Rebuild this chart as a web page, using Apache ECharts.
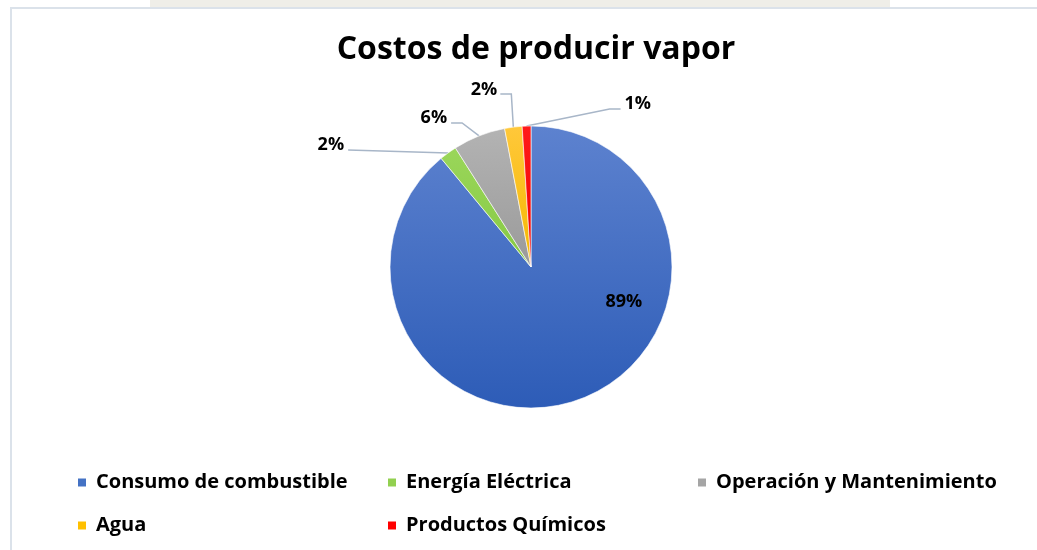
<!DOCTYPE html>
<html>
<head>
<meta charset="utf-8">
<script src="https://cdn.jsdelivr.net/npm/echarts@6/dist/echarts.min.js"></script>
<style>
  html, body { margin: 0; padding: 0; background: #ffffff; }
  #chart { width: 1037px; height: 550px; }
</style>
</head>
<body>
<div id="chart"></div>
<script>
// Cost breakdown of producing steam (percent of total)
const categories = [
  'Consumo de combustible',
  'Energía Eléctrica',
  'Operación y Mantenimiento',
  'Agua',
  'Productos Químicos'
];
const shares = [89, 2, 6, 2, 1];

// Slice fills: [top, bottom] of a soft vertical gradient, plus a flat legend swatch
const sliceTop    = ['#5d82cf', '#9ad65a', '#b3b3b3', '#ffc83a', '#ff1a1a'];
const sliceBottom = ['#2d5cb7', '#86c943', '#9a9a9a', '#f5b800', '#f00000'];
const swatch      = ['#4472c4', '#92d050', '#a5a5a5', '#ffc000', '#ff0000'];

const FONT = '"Open Sans", Lato, sans-serif';

// Leader-line routing for the outside labels, relative to the slice edge point
const leaderRoutes = {
  1: { bend: [-100, -3], end: [-100, -3], text: [-104, -8],  align: 'right' },
  2: { bend: [-17, -13], end: [-28, -13], text: [-32, -18],  align: 'right' },
  3: { bend: [-2, -33],  end: [-13, -33], text: [-16, -37],  align: 'right' },
  4: { bend: [83, -17],  end: [94, -17],  text: [98, -22],   align: 'left' }
};
// Offset of the value label sitting inside the large slice
const insideShift = [68, -34];

const chart = echarts.init(document.getElementById('chart'), null, { renderer: 'canvas' });

chart.setOption({
  backgroundColor: '#ffffff',
  animation: false,
  title: {
    text: 'Costos de producir vapor',
    left: 531,
    textAlign: 'center',
    top: 29,
    textStyle: { fontFamily: FONT, fontWeight: 'bold', fontSize: 32, color: '#000000' }
  },
  graphic: [
    { type: 'rect', silent: true, shape: { x: 150, y: 0, width: 740, height: 7 },
      style: { fill: '#efeee8' } },
    { type: 'rect', silent: true, shape: { x: 11, y: 8, width: 1040, height: 560 },
      style: { fill: 'none', stroke: '#dbe2ea', lineWidth: 2 } }
  ],
  legend: {
    left: 71,
    top: 456,
    width: 950,
    itemWidth: 10,
    itemHeight: 10,
    itemGap: 0,
    icon: 'rect',
    selectedMode: false,
    textStyle: {
      fontFamily: FONT, fontWeight: 'bold', fontSize: 20, color: '#000000',
      width: 290, lineHeight: 43, padding: [0, 0, 0, 4]
    },
    data: categories.map((name, i) => ({ name, itemStyle: { color: swatch[i] } }))
  },
  series: [{
    type: 'pie',
    center: [531, 267],
    radius: 141,
    startAngle: 90,
    clockwise: true,
    avoidLabelOverlap: false,
    itemStyle: { borderColor: '#ffffff', borderWidth: 0.6 },
    label: {
      show: true,
      position: 'outside',
      formatter: '{c}%',
      fontFamily: FONT, fontWeight: 'bold', fontSize: 18, color: '#000000'
    },
    labelLine: {
      show: true, length: 10, length2: 10, smooth: false,
      lineStyle: { color: '#a8b6c8', width: 1.5 }
    },
    emphasis: { disabled: true },
    labelLayout: function (params) {
      const route = leaderRoutes[params.dataIndex];
      if (!route) {
        const r = params.labelRect;
        return {
          x: r.x + r.width / 2 + insideShift[0],
          y: r.y + r.height / 2 + insideShift[1],
          align: 'center', verticalAlign: 'middle'
        };
      }
      const a = params.labelLinePoints[0];
      return {
        x: a[0] + route.text[0],
        y: a[1] + route.text[1],
        align: route.align,
        verticalAlign: 'middle',
        labelLinePoints: [
          [a[0], a[1]],
          [a[0] + route.bend[0], a[1] + route.bend[1]],
          [a[0] + route.end[0], a[1] + route.end[1]]
        ]
      };
    },
    data: categories.map((name, i) => ({
      name,
      value: shares[i],
      itemStyle: {
        color: new echarts.graphic.LinearGradient(0, 0, 0, 1, [
          { offset: 0, color: sliceTop[i] },
          { offset: 1, color: sliceBottom[i] }
        ])
      },
      label: i === 0 ? { position: 'inside' } : undefined,
      labelLine: i === 0 ? { show: false } : undefined
    }))
  }]
});
</script>
</body>
</html>
